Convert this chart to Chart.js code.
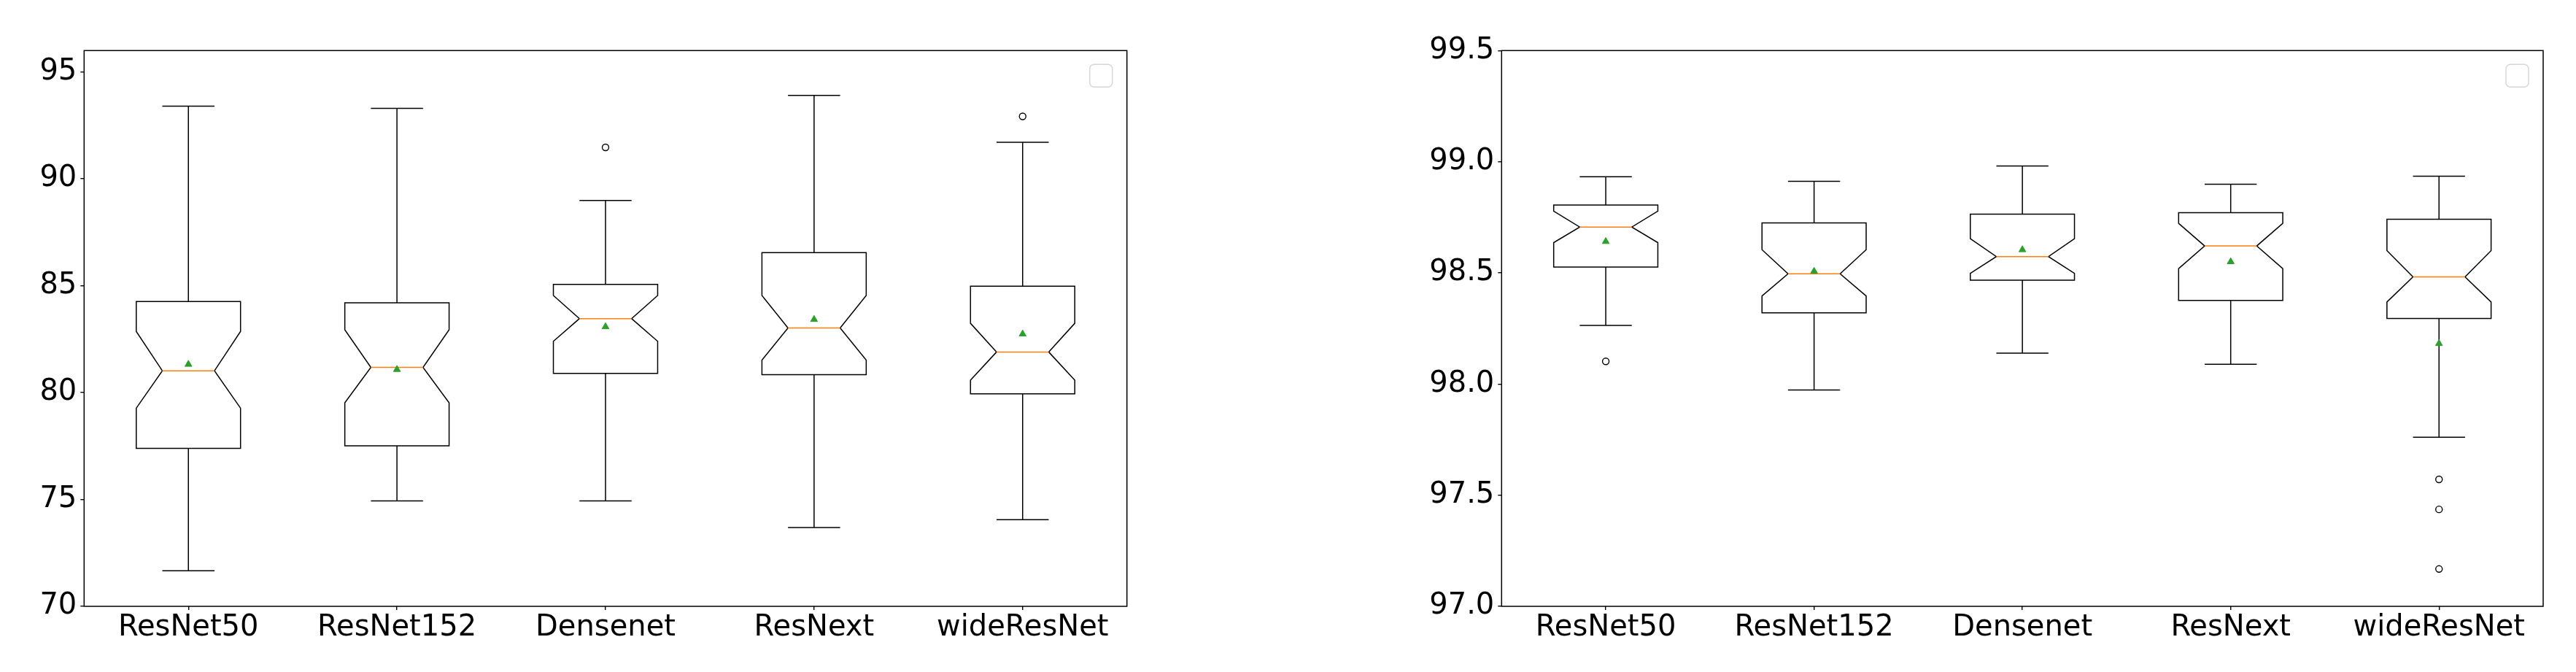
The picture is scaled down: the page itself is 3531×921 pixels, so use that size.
<!DOCTYPE html>
<html>
<head>
<meta charset="utf-8">
<script src="https://cdn.jsdelivr.net/npm/chart.js@4.4.1/dist/chart.umd.min.js"></script>
<style>
  html, body { margin: 0; padding: 0; background: #fff; }
  body { width: 3531px; height: 921px; position: relative; overflow: hidden; }
  .wrap { position: absolute; top: 0; height: 921px; }
  #leftWrap { left: 0; width: 1765px; }
  #rightWrap { left: 1765px; width: 1766px; }
</style>
</head>
<body>
<div class="wrap" id="leftWrap"><canvas id="chartLeft"></canvas></div>
<div class="wrap" id="rightWrap"><canvas id="chartRight"></canvas></div>
<script>
const labels = ["ResNet50", "ResNet152", "Densenet", "ResNext", "wideResNet"];

// left panel (values 70 - 96)
const leftWhiskerLow = [71.66, 74.93, 74.93, 73.69, 74.05];
const leftQ1 = [77.39, 77.51, 80.90, 80.84, 79.94];
const leftNotchLow = [79.27, 79.52, 82.40, 81.52, 80.58];
const leftMedian = [81.02, 81.18, 83.46, 83.02, 81.90];
const leftNotchHigh = [82.86, 82.94, 84.54, 84.54, 83.24];
const leftQ3 = [84.26, 84.20, 85.06, 86.55, 84.98];
const leftWhiskerHigh = [93.40, 93.30, 88.99, 93.90, 91.71];
const leftMean = [81.32, 81.08, 83.08, 83.42, 82.74];
const leftOutliers = [[], [], [91.47], [], [92.92]];
const leftTicks = [70, 75, 80, 85, 90, 95];

// right panel (values 97 - 99.5)
const rightWhiskerLow = [98.264, 97.973, 98.139, 98.089, 97.761];
const rightQ1 = [98.526, 98.320, 98.467, 98.376, 98.295];
const rightNotchLow = [98.636, 98.396, 98.498, 98.519, 98.369];
const rightMedian = [98.706, 98.496, 98.573, 98.621, 98.482];
const rightNotchHigh = [98.778, 98.604, 98.654, 98.723, 98.600];
const rightQ3 = [98.805, 98.725, 98.764, 98.771, 98.741];
const rightWhiskerHigh = [98.932, 98.912, 98.981, 98.899, 98.935];
const rightMean = [98.641, 98.507, 98.604, 98.550, 98.182];
const rightOutliers = [[98.102], [], [], [], [97.571, 97.436, 97.168]];
const rightTicks = [97.0, 97.5, 98.0, 98.5, 99.0, 99.5];

Chart.defaults.font.family = "'DejaVu Sans', sans-serif";
Chart.defaults.font.size = 40;
Chart.defaults.color = "#000";

// notched boxes, whiskers, frame and the empty legend box
const boxPlugin = {
  id: "boxes",
  beforeDatasetsDraw(chart) {
    const s = chart.options.plugins.boxes;
    const x = chart.scales.x, y = chart.scales.y;
    const ctx = chart.ctx;
    const slot = x.getPixelForValue(1) - x.getPixelForValue(0);
    const half = slot * 0.25;
    const inset = half / 2;
    ctx.save();
    ctx.lineJoin = "miter";
    for (let i = 0; i < labels.length; i++) {
      const cx = x.getPixelForValue(i);
      const l = cx - half, r = cx + half;
      const q1 = y.getPixelForValue(s.q1[i]);
      const q3 = y.getPixelForValue(s.q3[i]);
      const nl = y.getPixelForValue(s.notchLow[i]);
      const nh = y.getPixelForValue(s.notchHigh[i]);
      const md = y.getPixelForValue(s.median[i]);
      const wl = y.getPixelForValue(s.whiskerLow[i]);
      const wh = y.getPixelForValue(s.whiskerHigh[i]);

      ctx.strokeStyle = "#000";
      ctx.lineWidth = 1.5;
      // whiskers
      ctx.beginPath();
      ctx.moveTo(cx, q1); ctx.lineTo(cx, wl);
      ctx.moveTo(cx, q3); ctx.lineTo(cx, wh);
      ctx.moveTo(cx - inset, wl); ctx.lineTo(cx + inset, wl);
      ctx.moveTo(cx - inset, wh); ctx.lineTo(cx + inset, wh);
      ctx.stroke();
      // notched box
      ctx.beginPath();
      ctx.moveTo(l, q1);
      ctx.lineTo(r, q1);
      ctx.lineTo(r, nl);
      ctx.lineTo(r - inset, md);
      ctx.lineTo(r, nh);
      ctx.lineTo(r, q3);
      ctx.lineTo(l, q3);
      ctx.lineTo(l, nh);
      ctx.lineTo(l + inset, md);
      ctx.lineTo(l, nl);
      ctx.closePath();
      ctx.fillStyle = "#fff";
      ctx.fill();
      ctx.stroke();
      // median
      ctx.strokeStyle = "#ff7f0e";
      ctx.beginPath();
      ctx.moveTo(l + inset, md);
      ctx.lineTo(r - inset, md);
      ctx.stroke();
    }
    ctx.restore();
  },
  afterDraw(chart) {
    const a = chart.chartArea;
    const ctx = chart.ctx;
    ctx.save();
    ctx.strokeStyle = "#000";
    ctx.lineWidth = 1.5;
    ctx.strokeRect(a.left, a.top, a.right - a.left, a.bottom - a.top);
    ctx.strokeStyle = "#d6d6d6";
    ctx.lineWidth = 1.4;
    ctx.beginPath();
    ctx.roundRect(a.right - 51, a.top + 19, 31, 31, 6);
    ctx.stroke();
    ctx.restore();
  }
};

function makeChart(id, cfg) {
  const outlierPts = [];
  cfg.outliers.forEach((list, i) => list.forEach(v => outlierPts.push({ x: labels[i], y: v })));
  return new Chart(document.getElementById(id), {
    type: "line",
    data: {
      labels: labels,
      datasets: [
        {
          data: cfg.mean,
          showLine: false,
          pointStyle: "triangle",
          pointRadius: 5.5,
          backgroundColor: "#2ca02c",
          borderColor: "#2ca02c",
          borderWidth: 1
        },
        {
          data: outlierPts,
          showLine: false,
          pointStyle: "circle",
          pointRadius: 4.5,
          backgroundColor: "rgba(255,255,255,0)",
          borderColor: "#000",
          borderWidth: 1.4
        }
      ]
    },
    options: {
      responsive: true,
      maintainAspectRatio: false,
      animation: false,
      events: [],
      layout: { padding: { left: 0, top: 69.3, right: cfg.padRight, bottom: 0 } },
      plugins: {
        legend: { display: false },
        tooltip: { enabled: false },
        boxes: cfg
      },
      scales: {
        x: {
          type: "category",
          offset: true,
          grid: { offset: false, drawOnChartArea: false, drawTicks: true, tickLength: 5, color: "#000", lineWidth: 1.4 },
          border: { display: false },
          ticks: { padding: 1, maxRotation: 0, autoSkip: false },
          afterFit(scale) { scale.height = 90; }
        },
        y: {
          min: cfg.min,
          max: cfg.max,
          grid: { drawOnChartArea: false, drawTicks: true, tickLength: 5, color: "#000", lineWidth: 1.4 },
          border: { display: false },
          ticks: { padding: 5, callback: cfg.fmt },
          afterBuildTicks(scale) { scale.ticks = cfg.ticks.map(v => ({ value: v })); },
          afterFit(scale) { scale.width = cfg.axisWidth; }
        }
      }
    },
    plugins: [boxPlugin]
  });
}

makeChart("chartLeft", {
  q1: leftQ1, q3: leftQ3, median: leftMedian, notchLow: leftNotchLow, notchHigh: leftNotchHigh,
  whiskerLow: leftWhiskerLow, whiskerHigh: leftWhiskerHigh, mean: leftMean, outliers: leftOutliers,
  ticks: leftTicks, min: 70, max: 96, fmt: v => String(v),
  axisWidth: 115.3, padRight: 1765 - 1544.7
});

makeChart("chartRight", {
  q1: rightQ1, q3: rightQ3, median: rightMedian, notchLow: rightNotchLow, notchHigh: rightNotchHigh,
  whiskerLow: rightWhiskerLow, whiskerHigh: rightWhiskerHigh, mean: rightMean, outliers: rightOutliers,
  ticks: rightTicks, min: 97, max: 99.5, fmt: v => Number(v).toFixed(1),
  axisWidth: 2058.3 - 1765, padRight: 3531 - 3486
});
</script>
</body>
</html>
